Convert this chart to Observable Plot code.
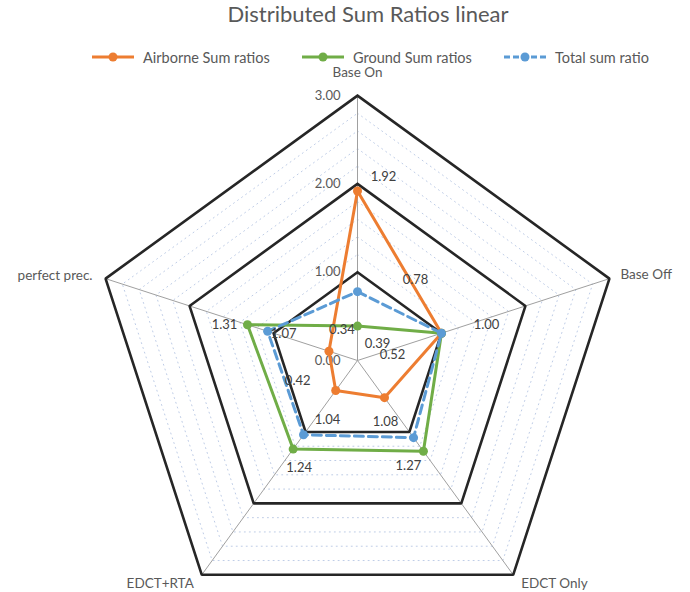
<!DOCTYPE html>
<html><head><meta charset="utf-8">
<script src="https://cdn.jsdelivr.net/npm/d3@7"></script>
<script src="https://cdn.jsdelivr.net/npm/@observablehq/plot@0.6"></script>
<style>
body{margin:0;background:#fff;font-family:Lato,"Open Sans",sans-serif;}
#header{position:relative;width:690px;height:64px;}
#title{position:absolute;top:0px;left:368px;transform:translateX(-50%);font-size:22px;color:#595959;white-space:nowrap;}
.leg{position:absolute;top:48px;height:18px;display:flex;align-items:center;font-size:14.5px;color:#595959;white-space:nowrap;}
.leg svg{margin-right:9px;}
#chart svg{display:block;}
</style></head>
<body>
<div id="header"><div id="title"></div></div>
<div id="chart"></div>
<script>
// ---- data ----
const titleText = "Distributed Sum Ratios linear";
const categories = ["Base On", "Base Off", "EDCT Only", "EDCT+RTA", "perfect prec."];
const seriesNames = ["Airborne Sum ratios", "Ground Sum ratios", "Total sum ratio"];
const airborne = [1.92, 1.00, 0.52, 0.42, 0.34];
const ground   = [0.39, 1.00, 1.27, 1.24, 1.31];
const total    = [0.78, 1.00, 1.08, 1.04, 1.07];
const tickValues = [0, 1, 2, 3];
const tickLabels = ["0.00", "1.00", "2.00", "3.00"];
const minorStep = 0.2;

// ---- styling ----
const colors = ["#ED7D31", "#70AD47", "#5B9BD5"];
const dashes = [null, null, "9,5"];
const legendLeft = [92, 302, 504];
// pixel nudges of each data label from its point [dx, dy]; null = not shown (shared label)
const labelNudge = [
  [[26,-14],[45,-8],[8,-43],[-38,-10],[13,-21]],
  [[20,18],null,[-15,15],[6,19],[-23,0]],
  [[58,-12],null,[-28,-16],[24,-15],[16,3]]
];
const catLabelStyle = [
  {anchor:"middle", dx:0, dy:-23},
  {anchor:"start", dx:11, dy:-4},
  {anchor:"start", dx:8, dy:9},
  {anchor:"end", dx:-8, dy:9},
  {anchor:"end", dx:-13, dy:-3}
];

// ---- header ----
document.getElementById("title").textContent = titleText;
const header = document.getElementById("header");
seriesNames.forEach((name, k) => {
  const div = document.createElement("div");
  div.className = "leg";
  div.style.left = legendLeft[k] + "px";
  div.innerHTML = `<svg width="42" height="12"><line x1="0" y1="6" x2="42" y2="6" stroke="${colors[k]}" stroke-width="3" ${dashes[k] ? `stroke-dasharray="6,3"` : ""}/><circle cx="21" cy="6" r="4.5" fill="${colors[k]}"/></svg><span></span>`;
  div.querySelector("span").textContent = name;
  header.appendChild(div);
});

// ---- geometry ----
const W = 690, H = 528, CX = 357, CY = 296, UNIT = 88.3;
const N = categories.length;
const ang = i => i * 2 * Math.PI / N;
const px = (r, i) => r * Math.sin(ang(i));
const py = (r, i) => r * Math.cos(ang(i));

const maxV = d3.max(tickValues);
const majorRings = tickValues.filter(v => v > 0).flatMap(v => d3.range(N + 1).map(i => ({v, i: i % N})));
const minorLevels = d3.range(1 + minorStep, maxV - 1e-6, minorStep).filter(v => Math.abs(v - Math.round(v)) > 1e-6);
const minorRings = minorLevels.flatMap(v => d3.range(N + 1).map(i => ({v, i: i % N})));
const spokes = categories.map((c, i) => ({i}));

const allSeries = [airborne, ground, total];
const linePts = allSeries.map((vals, k) => d3.range(N + 1).map(i => ({k, v: vals[i % N], i: i % N})));
const dotPts = allSeries.flatMap((vals, k) => vals.map((v, i) => ({k, v, i})));
const labelPts = allSeries.flatMap((vals, k) => vals.map((v, i) => ({k, v, i, n: labelNudge[k][i]}))).filter(d => d.n);

const marks = [
  Plot.line(minorRings, {x: d => px(d.v, d.i), y: d => py(d.v, d.i), z: "v", stroke: "#aebfe0", strokeWidth: 1, strokeDasharray: "1,4", strokeOpacity: 0.8}),
  Plot.link(spokes, {x1: d => 0, y1: d => 0, x2: d => px(maxV, d.i), y2: d => py(maxV, d.i), stroke: "#a0a0a0", strokeWidth: 1}),
  Plot.line(majorRings, {x: d => px(d.v, d.i), y: d => py(d.v, d.i), z: "v", stroke: "#262626", strokeWidth: 2.6, strokeLinejoin: "miter"}),
  Plot.text(tickValues, {x: d => 0, y: d => d, text: (d, i) => tickLabels[i], textAnchor: "end", dx: -17, fill: "#595959", fontSize: 13}),
  ...categories.map((c, i) => Plot.text([c], {x: d => px(maxV, i), y: d => py(maxV, i), text: d => d, textAnchor: catLabelStyle[i].anchor, dx: catLabelStyle[i].dx, dy: catLabelStyle[i].dy, fill: "#595959", fontSize: 13.5})),
];
allSeries.forEach((vals, k) => {
  marks.push(Plot.line(linePts[k], {x: d => px(d.v, d.i), y: d => py(d.v, d.i), stroke: colors[k], strokeWidth: 3, strokeDasharray: dashes[k] || undefined, strokeLinejoin: "round"}));
  marks.push(Plot.dot(dotPts.filter(d => d.k === k), {x: d => px(d.v, d.i), y: d => py(d.v, d.i), r: 4.5, fill: colors[k], stroke: "none"}));
});
marks.push(Plot.text(labelPts, {x: d => px(d.v, d.i) + d.n[0] / UNIT, y: d => py(d.v, d.i) - d.n[1] / UNIT, text: d => d.v.toFixed(2), fill: "#404040", fontSize: 13}));

const chart = Plot.plot({
  width: W, height: H,
  marginTop: 0, marginRight: 0, marginBottom: 0, marginLeft: 0,
  x: {domain: [-CX / UNIT, (W - CX) / UNIT], range: [0, W], axis: null},
  y: {domain: [-(H - CY) / UNIT, CY / UNIT], range: [H, 0], axis: null},
  style: {fontFamily: "Lato, 'Open Sans', sans-serif", background: "#fff"},
  marks
});
document.getElementById("chart").appendChild(chart);
</script>
</body></html>
